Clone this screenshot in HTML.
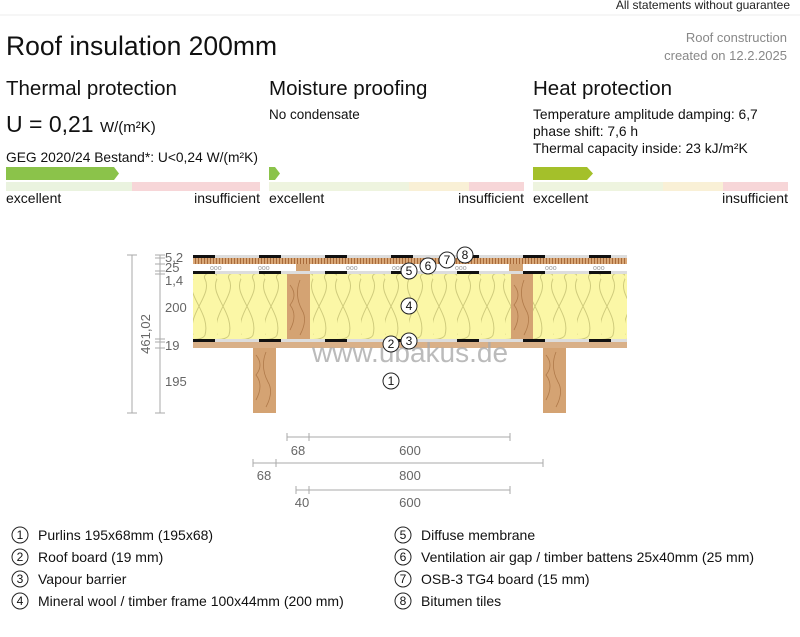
<!DOCTYPE html>
<html><head><meta charset="utf-8"><style>
body{margin:0;background:#fff;font-family:"Liberation Sans",sans-serif;}
</style></head><body>
<svg width="800" height="632" xmlns="http://www.w3.org/2000/svg" font-family="Liberation Sans, sans-serif">
<defs>
<pattern id="wool" x="193" y="273" width="24" height="66" patternUnits="userSpaceOnUse">
<rect width="24" height="66" fill="#fbf7a6"/>
<path d="M0 62 C-6 40 20 22 12 6 C8 -2 28 -2 24 6 C16 22 42 40 36 62 M-24 62 C-30 40 -4 22 -12 6 M0 6 C-8 22 18 40 12 62 C10 68 -10 68 -12 62" fill="none" stroke="#cfcb7c" stroke-width="1"/>
</pattern>
<pattern id="osb" x="0" y="0" width="3" height="6" patternUnits="userSpaceOnUse">
<rect width="3" height="6" fill="#d9a878"/><rect width="1" height="6" fill="#a86a3a"/>
</pattern>
<pattern id="dash" x="193" y="0" width="66" height="3" patternUnits="userSpaceOnUse">
<rect width="66" height="3" fill="#ddd"/><rect width="22" height="3" fill="#111"/>
</pattern>
</defs>
<text x="790" y="9" font-size="12" text-anchor="end" fill="#222">All statements without guarantee</text>
<line x1="0" y1="15" x2="800" y2="15" stroke="#eee"/>
<text x="6" y="55" font-size="26.5" fill="#111">Roof insulation 200mm</text>
<text x="787" y="42" font-size="13" text-anchor="end" fill="#888">Roof construction</text>
<text x="787" y="60" font-size="13" text-anchor="end" fill="#888">created on 12.2.2025</text>

<text x="6" y="95" font-size="20.5" fill="#111">Thermal protection</text>
<text x="269" y="95" font-size="20.5" fill="#111">Moisture proofing</text>
<text x="533" y="95" font-size="20.5" fill="#111">Heat protection</text>
<text x="6" y="132" font-size="23" fill="#111">U = 0,21 <tspan font-size="15">W/(m²K)</tspan></text>
<text x="6" y="162" font-size="13.8" fill="#111">GEG 2020/24 Bestand*: U&lt;0,24 W/(m²K)</text>
<text x="269" y="119" font-size="13.5" fill="#111">No condensate</text>
<text x="533" y="119" font-size="13.8" fill="#111">Temperature amplitude damping: 6,7</text>
<text x="533" y="136" font-size="13.8" fill="#111">phase shift: 7,6 h</text>
<text x="533" y="153" font-size="13.8" fill="#111">Thermal capacity inside: 23 kJ/m²K</text>

<polygon points="6,167 114,167 119,173.5 114,180 6,180" fill="#8bc34a"/>
<polygon points="269,167 275,167 280,173.5 275,180 269,180" fill="#8bc34a"/>
<polygon points="533,167 587,167 593,173.5 587,180 533,180" fill="#a4c02a"/>
<g>
<rect x="6" y="182" width="126" height="9" fill="#eaf3df"/><rect x="132" y="182" width="128" height="9" fill="#f7d6d8"/>
<rect x="269" y="182" width="140" height="9" fill="#eef4df"/><rect x="409" y="182" width="60" height="9" fill="#f9f0d6"/><rect x="469" y="182" width="55" height="9" fill="#f7d6d8"/>
<rect x="533" y="182" width="130" height="9" fill="#eef4df"/><rect x="663" y="182" width="60" height="9" fill="#f9f0d6"/><rect x="723" y="182" width="65" height="9" fill="#f7d6d8"/>
</g>
<text x="6" y="203" font-size="14" fill="#111">excellent</text>
<text x="260" y="203" font-size="14" text-anchor="end" fill="#111">insufficient</text>
<text x="269" y="203" font-size="14" fill="#111">excellent</text>
<text x="524" y="203" font-size="14" text-anchor="end" fill="#111">insufficient</text>
<text x="533" y="203" font-size="14" fill="#111">excellent</text>
<text x="788" y="203" font-size="14" text-anchor="end" fill="#111">insufficient</text>

<rect x="193" y="255" width="434" height="3" fill="url(#dash)"/>
<rect x="193" y="258" width="434" height="6" fill="url(#osb)"/>
<rect x="193" y="264" width="434" height="7" fill="#fff"/>
<g font-size="7" fill="#999"><text x="210" y="270">ooo</text><text x="258" y="270">ooo</text><text x="346" y="270">ooo</text><text x="392" y="270">ooo</text><text x="455" y="270">ooo</text><text x="545" y="270">ooo</text><text x="593" y="270">ooo</text></g>
<rect x="296" y="264" width="14" height="7" fill="#d4a373"/><rect x="509" y="264" width="14" height="7" fill="#d4a373"/>
<rect x="193" y="271" width="434" height="3" fill="url(#dash)"/>
<rect x="193" y="274" width="434" height="65" fill="url(#wool)"/>
<rect x="287" y="274" width="23" height="65" fill="#d4a373"/>
<rect x="511" y="274" width="22" height="65" fill="#d4a373"/>
<rect x="193" y="339" width="434" height="3" fill="url(#dash)"/>
<rect x="193" y="342" width="434" height="6" fill="#d9b088"/>
<rect x="253" y="348" width="23" height="65" fill="#d4a373"/>
<rect x="543" y="348" width="23" height="65" fill="#d4a373"/>
<g stroke="#b07a4a" fill="none" stroke-width="0.8">
<path d="M290 285 q8 10 0 20 q8 10 0 25 M300 280 q-6 15 2 30 q6 10 -2 25"/>
<path d="M514 285 q8 10 0 20 q8 10 0 25 M524 280 q-6 15 2 30 q6 10 -2 25"/>
<path d="M256 355 q8 10 0 20 q8 10 0 25 M266 352 q-6 15 2 30 q6 10 -2 25"/>
<path d="M546 355 q8 10 0 20 q8 10 0 25 M556 352 q-6 15 2 30 q6 10 -2 25"/>
</g>
<text x="410" y="362" font-size="28" fill="#aaa" fill-opacity="0.8" text-anchor="middle">www.ubakus.de</text>

<g stroke="#aaa" stroke-width="1">
<line x1="132" y1="255" x2="132" y2="413"/><line x1="127" y1="255" x2="137" y2="255"/><line x1="127" y1="413" x2="137" y2="413"/>
<line x1="160" y1="255" x2="160" y2="413"/>
<line x1="155" y1="255" x2="165" y2="255"/><line x1="155" y1="258" x2="165" y2="258"/><line x1="155" y1="264" x2="165" y2="264"/><line x1="155" y1="271" x2="165" y2="271"/><line x1="155" y1="274" x2="165" y2="274"/><line x1="155" y1="339" x2="165" y2="339"/><line x1="155" y1="342" x2="165" y2="342"/><line x1="155" y1="348" x2="165" y2="348"/><line x1="155" y1="413" x2="165" y2="413"/>
</g>
<g font-size="13" fill="#666">
<text x="165" y="262">5,2</text><text x="165" y="272">25</text><text x="165" y="285">1,4</text><text x="165" y="312">200</text><text x="165" y="350">19</text><text x="165" y="386">195</text>
<text transform="translate(150,334) rotate(-90)" text-anchor="middle">461,02</text>
</g>

<g stroke="#aaa" stroke-width="1">
<line x1="287" y1="437" x2="510" y2="437"/><line x1="287" y1="433" x2="287" y2="441"/><line x1="309" y1="433" x2="309" y2="441"/><line x1="510" y1="433" x2="510" y2="441"/>
<line x1="253" y1="463" x2="543" y2="463"/><line x1="253" y1="459" x2="253" y2="467"/><line x1="276" y1="459" x2="276" y2="467"/><line x1="543" y1="459" x2="543" y2="467"/>
<line x1="296" y1="490" x2="510" y2="490"/><line x1="296" y1="486" x2="296" y2="494"/><line x1="309" y1="486" x2="309" y2="494"/><line x1="510" y1="486" x2="510" y2="494"/>
</g>
<g font-size="13" fill="#666" text-anchor="middle">
<text x="298" y="455">68</text><text x="410" y="455">600</text>
<text x="264" y="480">68</text><text x="410" y="480">800</text>
<text x="302" y="507">40</text><text x="410" y="507">600</text>
</g>

<g font-size="12" text-anchor="middle" fill="#111">
<g stroke="#222" fill="#fff" stroke-width="1">
<circle cx="391" cy="381" r="8"/><circle cx="391" cy="344" r="8"/><circle cx="409" cy="341" r="8"/><circle cx="409" cy="306" r="8"/><circle cx="409" cy="271" r="8"/><circle cx="428" cy="266" r="8"/><circle cx="447" cy="260" r="8"/><circle cx="465" cy="255" r="8"/>
</g>
<text x="391" y="385">1</text><text x="391" y="348">2</text><text x="409" y="345">3</text><text x="409" y="310">4</text><text x="409" y="275">5</text><text x="428" y="270">6</text><text x="447" y="264">7</text><text x="465" y="259">8</text>
</g>

<g stroke="#222" fill="#fff">
<circle cx="20" cy="535" r="8"/><circle cx="20" cy="557" r="8"/><circle cx="20" cy="579" r="8"/><circle cx="20" cy="601" r="8"/>
<circle cx="403" cy="535" r="8"/><circle cx="403" cy="557" r="8"/><circle cx="403" cy="579" r="8"/><circle cx="403" cy="601" r="8"/>
</g>
<g font-size="12" text-anchor="middle" fill="#111">
<text x="20" y="539">1</text><text x="20" y="561">2</text><text x="20" y="583">3</text><text x="20" y="605">4</text>
<text x="403" y="539">5</text><text x="403" y="561">6</text><text x="403" y="583">7</text><text x="403" y="605">8</text>
</g>
<g font-size="14" fill="#111">
<text x="38" y="540">Purlins 195x68mm (195x68)</text>
<text x="38" y="562">Roof board (19 mm)</text>
<text x="38" y="584">Vapour barrier</text>
<text x="38" y="606">Mineral wool / timber frame 100x44mm (200 mm)</text>
<text x="421" y="540">Diffuse membrane</text>
<text x="421" y="562">Ventilation air gap / timber battens 25x40mm (25 mm)</text>
<text x="421" y="584">OSB-3 TG4 board (15 mm)</text>
<text x="421" y="606">Bitumen tiles</text>
</g>
</svg>
</body></html>
